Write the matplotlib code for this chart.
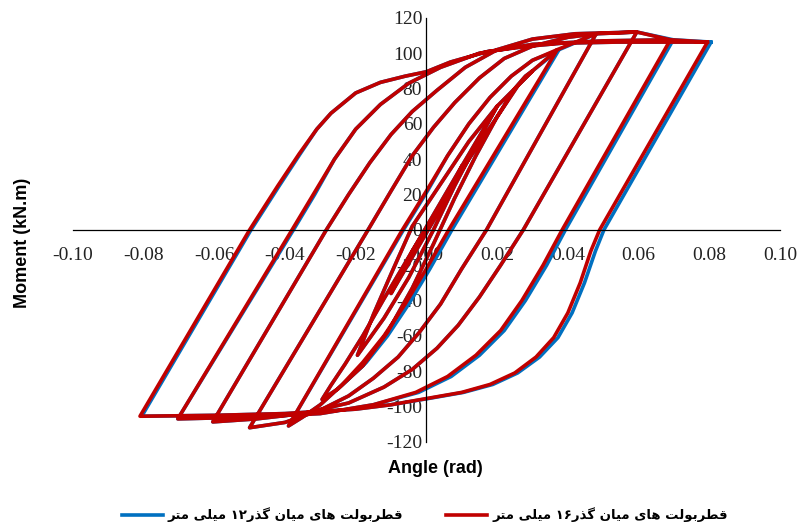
import re

import matplotlib
matplotlib.use("Agg")
import matplotlib.pyplot as plt

# hysteresis cycles as (rotation rad, moment kN.m)
# each cycle: positive peak -> unloading -> negative peak -> reloading -> positive peak
loop_1 = [(0.010, 36), (0.003, 12), (-0.004, -12), (-0.010, -36), (-0.003, -12), (0.004, 12), (0.010, 36)]
loop_a = [(0.020, 70), (0.012, 50), (0.004, 26), (-0.004, 2), (-0.010, -25), (-0.015, -48), (-0.0195, -71),
          (-0.012, -50), (-0.005, -27), (0.002, 0), (0.008, 25), (0.014, 48), (0.020, 70)]
loop_b = [(0.030, 90), (0.026, 82), (0.020, 64), (0.012, 40), (0.004, 14), (-0.004, -12), (-0.012, -39),
          (-0.018, -60), (-0.023, -76), (-0.027, -88), (-0.0295, -96), (-0.025, -90), (-0.018, -77),
          (-0.011, -58), (-0.004, -33), (0.002, -8), (0.008, 18), (0.014, 42), (0.020, 64), (0.025, 80),
          (0.028, 87), (0.030, 90)]
loop_c = [(0.037, 102), (0.0063, 0), (0.000, -22), (-0.006, -42), (-0.012, -60), (-0.018, -75), (-0.024, -88),
          (-0.030, -99), (-0.035, -106), (-0.039, -111), (-0.0068, 0), (0.000, 22), (0.006, 42), (0.012, 60),
          (0.018, 75), (0.024, 87), (0.030, 96), (0.037, 102)]
loop_d = [(0.048, 111), (0.0170, 0), (0.010, -22), (0.004, -42), (-0.002, -58), (-0.008, -72), (-0.015, -84),
          (-0.022, -94), (-0.030, -102), (-0.040, -109), (-0.050, -112), (-0.0165, 0), (-0.010, 22),
          (-0.004, 42), (0.002, 58), (0.008, 72), (0.015, 86), (0.022, 97), (0.030, 104), (0.040, 109), (0.048, 111)]
loop_e = [(0.0595, 112), (0.0274, 0), (0.021, -20), (0.015, -38), (0.009, -54), (0.003, -67), (-0.004, -79),
          (-0.012, -89), (-0.022, -98), (-0.035, -104), (-0.048, -107), (-0.0604, -108.7), (-0.0283, 0),
          (-0.022, 20), (-0.016, 38), (-0.010, 54), (-0.004, 67), (0.003, 79), (0.011, 92), (0.020, 102),
          (0.030, 108), (0.042, 111), (0.0595, 112)]
loop_f = [(0.069, 107.6), (0.0384, 0), (0.033, -20), (0.027, -40), (0.021, -57), (0.014, -71), (0.006, -83),
          (-0.003, -92), (-0.015, -99), (-0.030, -104), (-0.050, -106), (-0.0703, -107), (-0.0380, 0),
          (-0.032, 20), (-0.026, 40), (-0.020, 57), (-0.013, 71), (-0.005, 83), (0.004, 92), (0.015, 100),
          (0.030, 105), (0.050, 107), (0.069, 107.6)]
loop_g = [(0.0795, 106.3), (0.049, 0), (0.0465, -12), (0.0435, -30), (0.040, -47), (0.036, -61), (0.031, -72),
          (0.025, -81), (0.018, -87.5), (0.010, -92), (0.000, -95.5), (-0.010, -99), (-0.020, -101.5),
          (-0.040, -104), (-0.060, -105), (-0.081, -105.5), (-0.050, 0), (-0.042, 25), (-0.036, 43),
          (-0.031, 57), (-0.027, 66), (-0.020, 77.5), (-0.013, 83.5), (-0.006, 87), (0.000, 89.5),
          (0.0068, 95), (0.0174, 101), (0.0279, 103.8), (0.0384, 105.7), (0.054, 106.3), (0.0795, 106.3)]

# 12 mm bolts: same as 16 mm except where the blue line shows on the right
blue_c = [(0.0375, 102), (0.0072, 0), (0.0010, -22), (-0.005, -42), (-0.011, -60), (-0.017, -75), (-0.024, -88),
          (-0.030, -99), (-0.035, -106), (-0.039, -111), (-0.0065, 0), (0.0003, 22), (0.006, 42), (0.012, 60),
          (0.018, 75), (0.024, 87), (0.030, 96), (0.0375, 102)]
blue_f = [(0.0698, 107.6), (0.0393, 0), (0.0340, -20), (0.0280, -40), (0.0220, -57), (0.0150, -71), (0.0070, -83),
          (-0.0022, -92), (-0.015, -99), (-0.030, -104), (-0.050, -106), (-0.0703, -107), (-0.0376, 0),
          (-0.0316, 20), (-0.026, 40), (-0.020, 57), (-0.013, 71), (-0.005, 83), (0.004, 92), (0.015, 100),
          (0.030, 105), (0.050, 107), (0.0698, 107.6)]
blue_g = [(0.0805, 106.3), (0.0502, 0), (0.0478, -12), (0.0447, -30), (0.0412, -47), (0.0372, -61),
          (0.0320, -72), (0.0258, -81), (0.0188, -87.5), (0.0105, -92), (0.0005, -95.5), (-0.010, -99),
          (-0.020, -101.5), (-0.040, -104), (-0.060, -105), (-0.0805, -105.5), (-0.0496, 0), (-0.0416, 25),
          (-0.0357, 43), (-0.031, 57), (-0.027, 66), (-0.020, 77.5), (-0.013, 83.5), (-0.006, 87), (0.000, 89.5),
          (0.0068, 95), (0.0174, 101), (0.0279, 103.8), (0.0384, 105.7), (0.054, 106.3), (0.0805, 106.3)]

red_cycles = [loop_1, loop_a, loop_b, loop_c, loop_d, loop_e, loop_f, loop_g]
blue_cycles = [loop_1, loop_a, loop_b, blue_c, loop_d, loop_e, blue_f, blue_g]

x_ticks = [-0.10, -0.08, -0.06, -0.04, -0.02, 0.00, 0.02, 0.04, 0.06, 0.08, 0.10]
y_ticks = [-120, -100, -80, -60, -40, -20, 0, 20, 40, 60, 80, 100, 120]

label_12 = "قطربولت های میان گذر۱۲ میلی متر"
label_16 = "قطربولت های میان گذر۱۶ میلی متر"

# (isolated, final, initial, medial)
FORMS = {
    "ق": ("\ufed5", "\ufed6", "\ufed7", "\ufed8"),
    "ط": ("\ufec1", "\ufec2", "\ufec3", "\ufec4"),
    "ر": ("\ufead", "\ufeae", None, None),
    "ب": ("\ufe8f", "\ufe90", "\ufe91", "\ufe92"),
    "و": ("\ufeed", "\ufeee", None, None),
    "ل": ("\ufedd", "\ufede", "\ufedf", "\ufee0"),
    "ت": ("\ufe95", "\ufe96", "\ufe97", "\ufe98"),
    "ه": ("\ufee9", "\ufeea", "\ufeeb", "\ufeec"),
    "ا": ("\ufe8d", "\ufe8e", None, None),
    "ی": ("\ufbfc", "\ufbfd", "\ufbfe", "\ufbff"),
    "م": ("\ufee1", "\ufee2", "\ufee3", "\ufee4"),
    "ن": ("\ufee5", "\ufee6", "\ufee7", "\ufee8"),
    "گ": ("\ufb92", "\ufb93", "\ufb94", "\ufb95"),
    "ذ": ("\ufeab", "\ufeac", None, None),
}


def shape_rtl(text):
    # matplotlib has no arabic shaping / bidi, so do the joining forms by hand
    out = []
    for i, ch in enumerate(text):
        if ch not in FORMS:
            out.append(ch)
            continue
        prev = text[i - 1] if i > 0 else ""
        nxt = text[i + 1] if i + 1 < len(text) else ""
        f = FORMS[ch]
        join_prev = prev in FORMS and FORMS[prev][2] is not None
        join_next = nxt in FORMS and f[2] is not None
        if join_prev and join_next:
            out.append(f[3])
        elif join_prev:
            out.append(f[1])
        elif join_next:
            out.append(f[2])
        else:
            out.append(f[0])
    visual = "".join(out)[::-1]
    return re.sub("[\u06f0-\u06f90-9]+", lambda m: m.group(0)[::-1], visual)


def flatten(cycles):
    xs, ms = [], []
    for c in cycles:
        for x, m in c:
            xs.append(x)
            ms.append(m)
    return xs, ms


fig = plt.figure(figsize=(8, 5.26), dpi=100)
ax = fig.add_axes([0.091, 0.160, 0.884, 0.806])

bx, bm = flatten(blue_cycles)
rx, rm = flatten(red_cycles)
ax.plot(bx, bm, color="#0070C0", lw=2.6, solid_joinstyle="round", label=shape_rtl(label_12))
ax.plot(rx, rm, color="#C00000", lw=2.6, solid_joinstyle="round", label=shape_rtl(label_16))

ax.set_xlim(-0.10, 0.10)
ax.set_ylim(-120, 120)
ax.spines["top"].set_visible(False)
ax.spines["right"].set_visible(False)
ax.spines["left"].set_position("zero")
ax.spines["bottom"].set_position("zero")
ax.spines["left"].set_linewidth(0.9)
ax.spines["bottom"].set_linewidth(0.9)
ax.set_xticks(x_ticks)
ax.set_xticklabels([f"{t:.2f}" for t in x_ticks])
ax.set_yticks(y_ticks)
ax.set_yticklabels([str(t) for t in y_ticks])
ax.tick_params(axis="x", length=0, pad=12)
ax.tick_params(axis="y", length=0, pad=3)
for lab in ax.get_xticklabels() + ax.get_yticklabels():
    lab.set_family("Liberation Serif")
    lab.set_fontsize(14)
    lab.set_color("#222222")

fig.text(0.028, 0.538, "Moment (kN.m)", rotation=90, ha="center", va="center",
         family="Liberation Sans", weight="bold", fontsize=13)
fig.text(0.544, 0.110, "Angle (rad)", ha="center", va="center",
         family="Liberation Sans", weight="bold", fontsize=13)

fig.legend(loc="center", bbox_to_anchor=(0.531, 0.021), ncol=2, frameon=False,
           prop={"family": "DejaVu Sans", "weight": "bold", "size": 9.5},
           handlelength=3.1, handletextpad=0.4, columnspacing=3.25)

fig.savefig("out.png", dpi=100)
